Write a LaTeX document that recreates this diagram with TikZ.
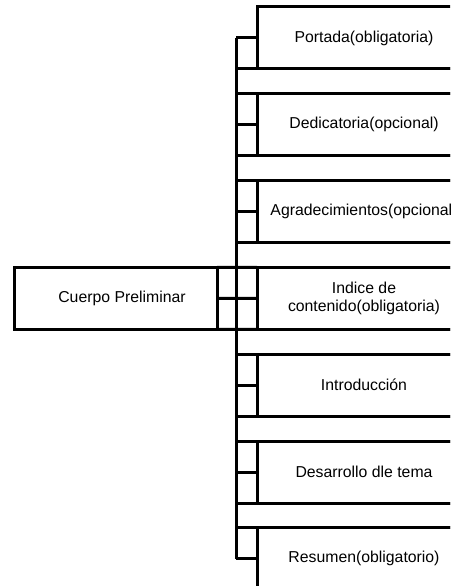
\documentclass[tikz,border=0pt]{standalone}
\usepackage{fontspec}
\setmainfont{Liberation Sans}
\usetikzlibrary{positioning}

\begin{document}
\begin{tikzpicture}
  [x=1pt, y=-1pt,
     caja/.style={draw,
                  line width=3pt,
                  minimum width=214pt,
                  minimum height=62pt,
                  inner sep=0pt,
                  outer sep=0pt,
                  align=center,
                  font=\fontsize{15.8}{18}\selectfont},
     lin/.style={line width=3pt}
  ]
    \useasboundingbox (0,0) rectangle (450,586);
    \clip (0,0) rectangle (450,586);

    % cajas de la derecha
    \foreach \i/\t in {1/{Portada(obligatoria)},
                       2/{Dedicatoria(opcional)},
                       3/{Agradecimientos(opcional)},
                       4/{Indice de\\contenido(obligatoria)},
                       5/{Introducción},
                       6/{Desarrollo dle tema},
                       7/{Resumen(obligatorio)}}{%
        \node[caja] (b\i) at (364,{38+86.8*(\i-1)}) {\t};
    }

    % caja principal
    \node[caja, minimum width=203pt] (cuerpo) at (115.5,298.4)
        {\hspace*{13pt}Cuerpo Preliminar};

    \coordinate (spine) at (236,0);
    \draw[lin] (spine |- b1.west) -- (spine |- b7.west);

    \foreach \i in {1,...,7}{
        \draw[lin] (spine |- b\i.west) -- (b\i.west);
    }
    \foreach \i [evaluate=\i as \j using int(\i+1)] in {1,...,6}{
        \draw[lin] (spine |- b\i.south) -- (b\i.south east);
        \draw[lin] (spine |- b\j.north) -- (b\j.north east);
    }

    \draw[lin] (cuerpo.east) -- (b4.west);
    \draw[lin] (cuerpo.north east) -- (b4.north west);
    \draw[lin] (cuerpo.south east) -- (b4.south west);

\end{tikzpicture}
\end{document}
